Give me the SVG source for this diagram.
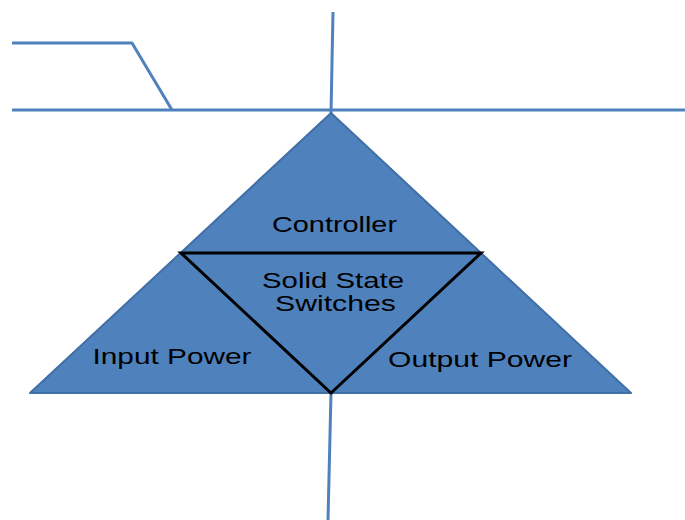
<svg xmlns="http://www.w3.org/2000/svg" width="685" height="520" viewBox="0 0 685 520">
<style>
.wire{stroke:#4F81BD;stroke-width:3;fill:none;stroke-linejoin:round}
.tri{fill:#4F81BD;stroke:#3F6FA5;stroke-width:2;stroke-linejoin:round}
.inner{fill:none;stroke:#000;stroke-width:3;stroke-linejoin:miter}
.lbl{font-family:"Liberation Sans",Arial,sans-serif;font-size:22px;fill:#000;text-anchor:middle}
</style>
<rect width="685" height="520" fill="#fff"/>
<g id="connectors">
<polyline class="wire" points="12,43 132,43 172,110"/>
<line class="wire" x1="12" y1="110" x2="685" y2="110"/>
<line class="wire" x1="333" y1="12" x2="331" y2="113"/>
<line class="wire" x1="331" y1="393" x2="328" y2="520"/>
</g>
<g id="pyramid">
<polygon class="tri" points="331,113 631,393 30,393"/>
</g>
<g id="controller">
<text class="lbl" x="334.5" y="232" textLength="125" lengthAdjust="spacingAndGlyphs">Controller</text>
</g>
<g id="switches">
<polygon class="inner" points="181,253 481,253 331,393"/>
<text class="lbl" x="333" y="288" textLength="142" lengthAdjust="spacingAndGlyphs">Solid State</text>
<text class="lbl" x="335.5" y="311" textLength="121" lengthAdjust="spacingAndGlyphs">Switches</text>
</g>
<g id="input-power">
<text class="lbl" x="172" y="364" textLength="159" lengthAdjust="spacingAndGlyphs">Input Power</text>
</g>
<g id="output-power">
<text class="lbl" x="480" y="367" textLength="184" lengthAdjust="spacingAndGlyphs">Output Power</text>
</g>
</svg>
